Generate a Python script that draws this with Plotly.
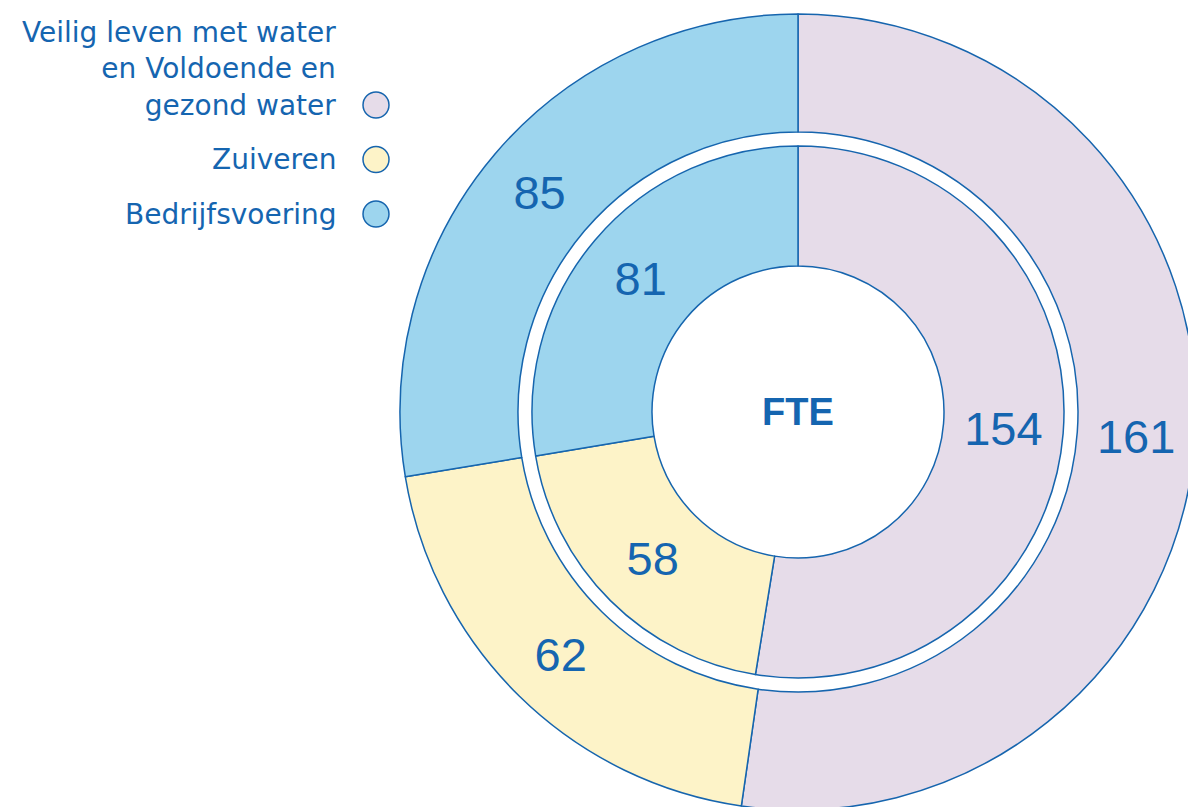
import plotly.graph_objects as go

# ---- data ----
categories = ["Veilig leven met water<br>en Voldoende en<br>gezond water", "Zuiveren", "Bedrijfsvoering"]
outer_values = [161, 62, 85]
inner_values = [154, 58, 81]
slice_colors = ["#E6DCE9", "#FDF3C8", "#9DD5EE"]
center_label = "FTE"

LINE = "#1665AE"
TXT = "#1565B0"
NUM_FONT = "Liberation Sans, Arial, sans-serif"
LEG_FONT = "DejaVu Sans, sans-serif"

# ---- layout geometry (pixels, figure coords; body margin removed below) ----
W, H = 1200, 820
cx, cy = 798, 412
R_out, R_out_hole = 398, 280
R_in, R_in_hole = 266, 146
leg_x, leg_y0, leg_dy = 376, 105, 54.5
leg_fs = 28


def dom(r):
    return dict(x=[(cx - r) / W, (cx + r) / W], y=[1 - (cy + r) / H, 1 - (cy - r) / H])


labels = [c.replace("<br>", " ") for c in categories]

fig = go.Figure()
for vals, R, Rh in [(outer_values, R_out, R_out_hole), (inner_values, R_in, R_in_hole)]:
    fig.add_trace(go.Pie(
        values=vals, labels=labels, domain=dom(R), hole=Rh / R,
        sort=False, direction="clockwise", rotation=0,
        marker=dict(colors=slice_colors, line=dict(color=LINE, width=1.5)),
        textinfo="value", textposition="inside", insidetextorientation="horizontal",
        textfont=dict(family=NUM_FONT, size=47, color=TXT),
        showlegend=False, hoverinfo="label+value",
    ))

# custom legend: circles with right-aligned labels on their left
leg_y = [-i for i in range(len(categories))]
fig.add_trace(go.Scatter(
    x=[0] * len(categories), y=leg_y, mode="markers",
    marker=dict(size=26, color=slice_colors, line=dict(color=LINE, width=1.5)),
    showlegend=False, hoverinfo="skip", xaxis="x", yaxis="y",
))
for cat, yv in zip(categories, leg_y):
    n = cat.count("<br>") + 1
    fig.add_annotation(
        x=0, y=yv, xref="x", yref="y", text=cat, showarrow=False,
        xanchor="right", yanchor="middle", align="right", xshift=-38,
        yshift=(n - 1) / 2 * 1.3 * leg_fs,
        font=dict(family=LEG_FONT, size=leg_fs, color=TXT),
    )

fig.add_annotation(
    x=cx / W, y=1 - cy / H, xref="paper", yref="paper", text="<b>" + center_label + "</b>",
    showarrow=False, xanchor="center", yanchor="middle",
    font=dict(family=NUM_FONT, size=38, color=TXT),
)

ymax = leg_y0 / leg_dy
fig.update_layout(
    width=W, height=H, margin=dict(l=0, r=0, t=0, b=0),
    paper_bgcolor="white", plot_bgcolor="rgba(0,0,0,0)",
    xaxis=dict(range=[-leg_x, W - leg_x], domain=[0, 1], visible=False, fixedrange=True),
    yaxis=dict(range=[ymax - H / leg_dy, ymax], domain=[0, 1], visible=False, fixedrange=True),
    showlegend=False,
)

# the donut is intentionally cropped by the page edge; no body margin, no scrollbars
fig.write_html(
    "out.html",
    config={"displayModeBar": False},
    post_script="document.body.style.margin='0';document.documentElement.style.overflow='hidden';document.body.style.overflow='hidden';",
)
